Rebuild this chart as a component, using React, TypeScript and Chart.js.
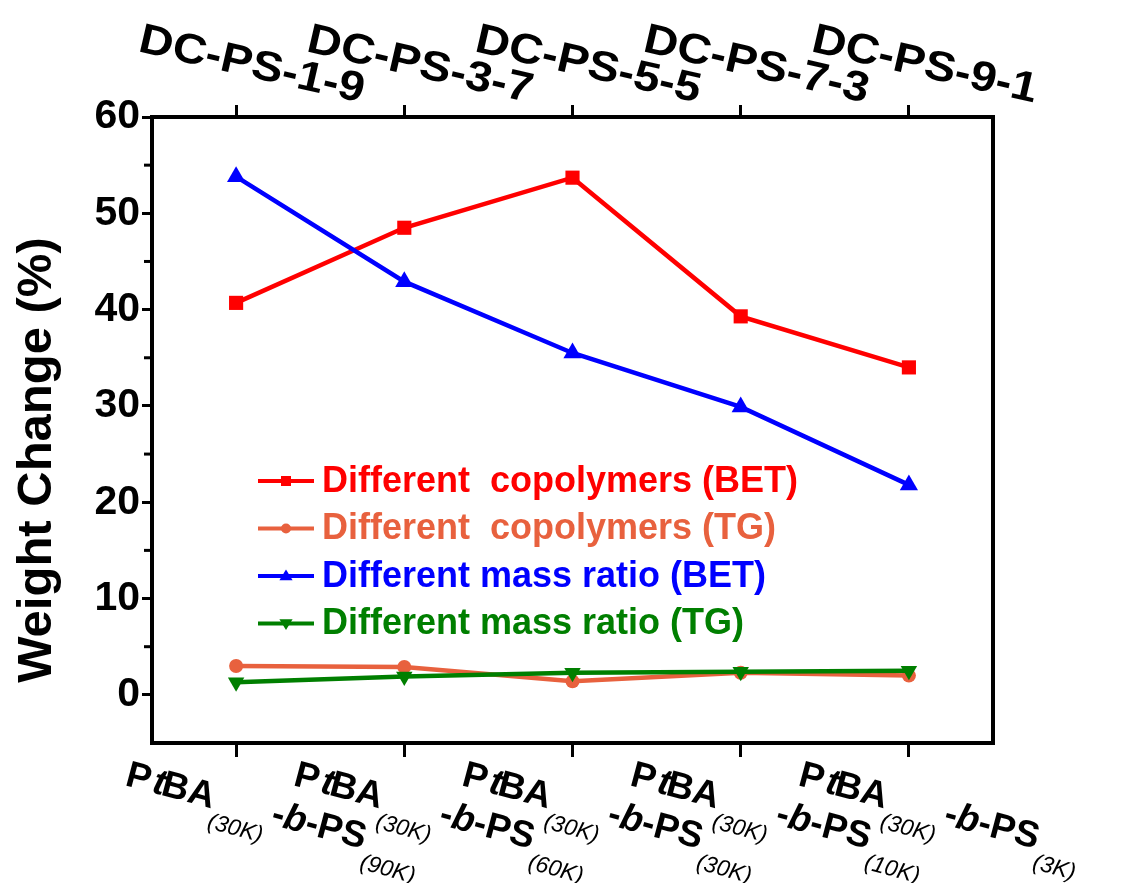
import React, { useEffect, useRef } from 'react';
import { Chart, registerables } from 'chart.js';

Chart.register(...registerables);

const FONT = '"Liberation Sans", Arial, Helvetica, sans-serif';

// ---- data ----
const ptbaMass = '(30K)';
const psMass = ['(90K)', '(60K)', '(30K)', '(10K)', '(3K)'];
const bottomLabels = psMass.map((m) => `PtBA${ptbaMass}-b-PS${m}`);
const topLabels = ['DC-PS-1-9', 'DC-PS-3-7', 'DC-PS-5-5', 'DC-PS-7-3', 'DC-PS-9-1'];

const copolymersBET = [40.7, 48.5, 53.7, 39.3, 34.0];
const copolymersTG = [3.0, 2.9, 1.4, 2.3, 2.0];
const massRatioBET = [53.8, 42.9, 35.5, 29.9, 21.8];
const massRatioTG = [1.3, 1.9, 2.3, 2.4, 2.5];

const seriesNames = [
  'Different  copolymers (BET)',
  'Different  copolymers (TG)',
  'Different mass ratio (BET)',
  'Different mass ratio (TG)',
];
const seriesColors = ['#FF0000', '#E8613E', '#0000FF', '#007F00'];

const yMin = -5;
const yMax = 60;
const yStep = 5;
const yTitle = 'Weight Change (%)';

function drawMarker(ctx: CanvasRenderingContext2D, kind: number, x: number, y: number, s: number, color: string) {
  ctx.fillStyle = color;
  ctx.beginPath();
  if (kind === 0) {
    ctx.rect(x - s, y - s, 2 * s, 2 * s);
  } else if (kind === 1) {
    ctx.arc(x, y, s, 0, Math.PI * 2);
  } else if (kind === 2) {
    ctx.moveTo(x, y - s * 1.1);
    ctx.lineTo(x + s * 1.1, y + s * 0.7);
    ctx.lineTo(x - s * 1.1, y + s * 0.7);
    ctx.closePath();
  } else {
    ctx.moveTo(x, y + s * 1.1);
    ctx.lineTo(x + s * 1.1, y - s * 0.7);
    ctx.lineTo(x - s * 1.1, y - s * 0.7);
    ctx.closePath();
  }
  ctx.fill();
}

const customPlugin = {
  id: 'customDecor',
  afterDraw(chart: any) {
    const { ctx, chartArea, scales } = chart;
    const xs = scales.x;
    const ys = scales.y;
    ctx.save();

    // minor ticks on the left axis
    ctx.strokeStyle = '#000';
    ctx.lineWidth = 3;
    for (let v = yMin + yStep; v < yMax; v += yStep) {
      if (v % 10 === 0) continue;
      const py = ys.getPixelForValue(v);
      ctx.beginPath();
      ctx.moveTo(chartArea.left - 2, py);
      ctx.lineTo(chartArea.left - 8, py);
      ctx.stroke();
    }

    // top labels
    ctx.fillStyle = '#000';
    ctx.textAlign = 'left';
    ctx.textBaseline = 'alphabetic';
    ctx.font = `bold 42px ${FONT}`;
    topLabels.forEach((t, i) => {
      const px = xs.getPixelForValue(i);
      ctx.save();
      ctx.translate(px - 99, chartArea.top - 66);
      ctx.rotate((13 * Math.PI) / 180);
      ctx.scale(1.12, 1);
      ctx.fillText(t, 0, 0);
      ctx.restore();
    });

    // bottom labels (rich text)
    const main = `bold 37px ${FONT}`;
    const mainIt = `italic bold 37px ${FONT}`;
    const sub = `italic 23px ${FONT}`;
    psMass.forEach((m, i) => {
      const px = xs.getPixelForValue(i);
      const segs = [
        { t: 'P', f: main, dy: 0, gap: 3 },
        { t: 't', f: mainIt, dy: 0, gap: -3 },
        { t: 'BA', f: main, dy: 0, gap: 0 },
        { t: ptbaMass, f: sub, dy: 20, gap: 4 },
        { t: '-', f: main, dy: 0, gap: 0 },
        { t: 'b', f: mainIt, dy: 0, gap: 0 },
        { t: '-PS', f: main, dy: 0, gap: 1 },
        { t: m, f: sub, dy: 20, gap: 0 },
      ];
      ctx.save();
      ctx.translate(px - 112, chartArea.bottom + 42);
      ctx.rotate((15 * Math.PI) / 180);
      let cx = 0;
      segs.forEach((s) => {
        ctx.font = s.f;
        ctx.fillText(s.t, cx, s.dy);
        cx += ctx.measureText(s.t).width + s.gap;
      });
      ctx.restore();
    });

    // y-axis title
    ctx.save();
    ctx.font = `bold 49px ${FONT}`;
    ctx.textAlign = 'center';
    ctx.translate(51, 460);
    ctx.rotate(-Math.PI / 2);
    ctx.fillText(yTitle, 0, 0);
    ctx.restore();

    // legend inside plot
    const lx = chartArea.left + 106;
    const ly0 = chartArea.top + 364;
    const rowH = 47.5;
    const markerSize = [5, 5, 6, 6];
    seriesNames.forEach((name, i) => {
      const y = ly0 + i * rowH;
      const c = seriesColors[i];
      ctx.strokeStyle = c;
      ctx.lineWidth = 4;
      ctx.beginPath();
      ctx.moveTo(lx, y);
      ctx.lineTo(lx + 56, y);
      ctx.stroke();
      drawMarker(ctx, i, lx + 28, y, markerSize[i], c);
      ctx.fillStyle = c;
      ctx.font = `bold 36px ${FONT}`;
      ctx.textAlign = 'left';
      ctx.textBaseline = 'middle';
      ctx.fillText(name, lx + 64, y + 1);
    });

    ctx.restore();
  },
};

export default function App() {
  const ref = useRef<HTMLCanvasElement | null>(null);

  useEffect(() => {
    if (!ref.current) return;
    const axisGrid = (len: number) => ({
      display: true,
      drawOnChartArea: false,
      drawTicks: true,
      tickLength: len,
      tickWidth: 3,
      lineWidth: 3,
      color: '#000',
      tickColor: '#000',
    });
    const border = { display: true, width: 4, color: '#000' };
    const chart = new Chart(ref.current, {
      type: 'line',
      data: {
        labels: bottomLabels,
        datasets: [
          {
            label: seriesNames[0],
            data: copolymersBET,
            borderColor: seriesColors[0],
            backgroundColor: seriesColors[0],
            borderWidth: 4.5,
            pointStyle: 'rect',
            pointRadius: 10,
            pointBorderWidth: 0,
            order: 2,
          },
          {
            label: seriesNames[1],
            data: copolymersTG,
            borderColor: seriesColors[1],
            backgroundColor: seriesColors[1],
            borderWidth: 4.5,
            pointStyle: 'circle',
            pointRadius: 7,
            pointBorderWidth: 0,
            order: 3,
          },
          {
            label: seriesNames[2],
            data: massRatioBET,
            borderColor: seriesColors[2],
            backgroundColor: seriesColors[2],
            borderWidth: 4.5,
            pointStyle: 'triangle',
            pointRadius: 10.5,
            pointBorderWidth: 0,
            order: 1,
          },
          {
            label: seriesNames[3],
            data: massRatioTG,
            borderColor: seriesColors[3],
            backgroundColor: seriesColors[3],
            borderWidth: 4.5,
            pointStyle: 'triangle',
            pointRotation: 180,
            pointRadius: 9.5,
            pointBorderWidth: 0,
            order: 0,
          },
        ],
      },
      options: {
        responsive: false,
        animation: false,
        layout: { padding: 0 },
        plugins: { legend: { display: false }, tooltip: { enabled: false } },
        scales: {
          x: {
            type: 'category',
            position: 'bottom',
            offset: true,
            grid: axisGrid(14),
            border,
            ticks: { display: false },
            afterFit: (s: any) => {
              s.height = 140;
            },
          },
          x2: {
            type: 'category',
            position: 'top',
            offset: true,
            labels: topLabels,
            grid: axisGrid(12),
            border,
            ticks: { display: false },
            afterFit: (s: any) => {
              s.height = 117;
            },
          },
          y: {
            type: 'linear',
            position: 'left',
            min: yMin,
            max: yMax,
            grid: {
              ...axisGrid(10),
              tickColor: (c: any) =>
                c.tick && c.tick.value % 10 === 0 && c.tick.value >= 0 ? '#000' : 'rgba(0,0,0,0)',
            },
            border,
            ticks: {
              stepSize: yStep,
              autoSkip: false,
              padding: 2,
              color: '#000',
              font: { family: FONT, size: 41, weight: 'bold' },
              callback: (v: any) => (Number(v) % 10 === 0 && Number(v) >= 0 ? String(v) : ''),
            },
            afterFit: (s: any) => {
              s.width = 152;
            },
          },
          y2: {
            type: 'linear',
            position: 'right',
            min: yMin,
            max: yMax,
            grid: { display: true, drawOnChartArea: false, drawTicks: false },
            border,
            ticks: { display: false },
            afterFit: (s: any) => {
              s.width = 128;
            },
          },
        },
      } as any,
      plugins: [customPlugin],
    });
    return () => chart.destroy();
  }, []);

  return (
    <div style={{ position: 'absolute', left: 0, top: 0, width: 1121, height: 883, background: '#fff' }}>
      <canvas ref={ref} width={1121} height={883} style={{ width: 1121, height: 883 }} />
    </div>
  );
}
